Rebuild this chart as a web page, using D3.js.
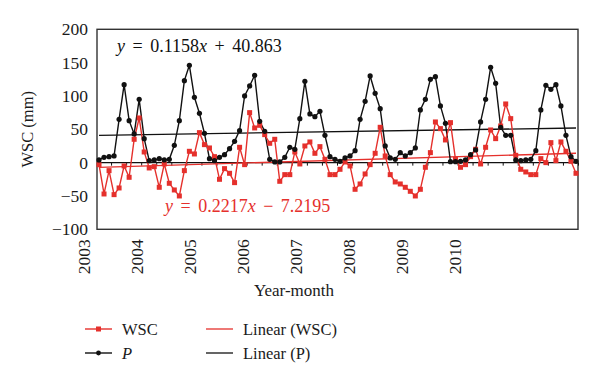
<!DOCTYPE html>
<html>
<head>
<meta charset="utf-8">
<script src="https://cdn.jsdelivr.net/npm/d3@7"></script>
<style>
  html, body { margin: 0; padding: 0; background: #fff; }
  svg { display: block; }
  text { font-family: "Liberation Serif", "Times New Roman", serif; fill: #1a1a1a; }
</style>
</head>
<body>
<svg id="chart" width="600" height="383"></svg>
<script>
// ---- Data (monthly, Jan 2003 – Dec 2010) ----
const yearLabels = ["2003", "2004", "2005", "2006", "2007", "2008", "2009", "2010"];
const yTicks = [-100, -50, 0, 50, 100, 150, 200];

const pValues = [
  4, 8, 9, 10, 65, 117, 63, 43, 95, 36, 3, 4,
  6, 4, 5, 26, 63, 123, 146, 98, 74, 44, 6, 3,
  8, 12, 21, 32, 48, 100, 115, 131, 62, 47, 5, 1,
  1, 8, 23, 20, 66, 122, 73, 69, 77, 41, 9, 5,
  2, 7, 10, 18, 65, 92, 130, 104, 81, 25, 7, 5,
  15, 10, 15, 22, 79, 95, 125, 129, 85, 59, 1.5, 1.5,
  2, 4, 12, 19, 61, 95, 143, 119, 53, 41, 41, 4,
  3, 4, 5, 18, 79, 116, 110, 117, 85, 41, 9, 2
];

const wscValues = [
  -3, -47, -12, -48, -38, -5, -22, 35, 67, 16, -8, -6,
  -37, -2, -31, -41, -50, -12, 17, 13, 45, 27, 22, 9,
  -25, -9, -16, -30, 23, -3, 75, 52, 56, 42, 29, 35,
  -28, -18, -18, 16, -2, 25, 31, 14, 24, 5, -18, -18,
  -10, 1, -5, -40, -32, -17, -3, 14, 53, 10, -18, -29,
  -32, -37, -43, -50, -40, -7, 15, 61, 51, 34, 60, 5,
  -7, -3, 9, 20, -2, 23, 49, 36, 55, 88, 66, 11,
  -10, -14, -18, -18, 6, 0, 30, 3, 31, 17, 2, -16
];

// Trend line coefficients as printed on the chart (x = 1..96)
const pTrend = { slope: 0.1158, intercept: 40.863 };
const wscTrend = { slope: 0.2217, intercept: -7.2195 };

// ---- Layout ----
const RED = "#e5302c";
const BLACK = "#111";
const plot = { left: 97, right: 578, top: 29.3, bottom: 229.3 };

const svg = d3.select("#chart");

const n = pValues.length;
const x = d3.scaleLinear().domain([-0.4, n - 0.6]).range([plot.left, plot.right]);
const y = d3.scaleLinear().domain([-100, 200]).range([plot.bottom, plot.top]);

// Plot frame
svg.append("rect")
  .attr("x", plot.left).attr("y", plot.top)
  .attr("width", plot.right - plot.left).attr("height", plot.bottom - plot.top)
  .attr("fill", "none").attr("stroke", "#333").attr("stroke-width", 1.4);

// Y axis labels
const yAxis = d3.axisLeft(y).tickValues(yTicks).tickSize(0).tickPadding(9).tickFormat(d3.format("d"));
const gy = svg.append("g").attr("transform", `translate(${plot.left},0)`).call(yAxis)
  .attr("font-family", "Liberation Serif, serif").attr("font-size", 17.5);
gy.select(".domain").remove();
gy.selectAll("text").attr("fill", "#1a1a1a");

// Zero line with small ticks (quarterly)
svg.append("line")
  .attr("x1", plot.left).attr("x2", plot.right)
  .attr("y1", y(0)).attr("y2", y(0))
  .attr("stroke", BLACK).attr("stroke-width", 1.2);
const zeroTicks = d3.range(2.5, n, 3);
svg.append("g").selectAll("line").data(zeroTicks).join("line")
  .attr("x1", d => x(d)).attr("x2", d => x(d))
  .attr("y1", y(0)).attr("y2", y(0) + 3)
  .attr("stroke", BLACK).attr("stroke-width", 1);

// Year labels (rotated), spread as in the original axis
const yearScale = d3.scalePoint().domain(yearLabels).range([x(-3.1), x(70.9)]);
const gx = svg.append("g").selectAll("g").data(yearLabels).join("g")
  .attr("transform", d => `translate(${yearScale(d)},${plot.bottom + 10}) rotate(-90)`);
gx.append("text").attr("text-anchor", "end").attr("dy", "0.35em")
  .style("font-size", "17.5px").text(d => d);

// Axis titles
svg.append("text")
  .attr("transform", `translate(27,${(plot.top + plot.bottom) / 2}) rotate(-90)`)
  .attr("text-anchor", "middle").attr("dy", "0.35em")
  .style("font-size", "16.5px").text("WSC (mm)");
svg.append("text")
  .attr("x", 294).attr("y", 296).attr("text-anchor", "middle")
  .style("font-size", "17px").text("Year-month");

// Trend lines
const trendLine = d3.line().x(d => x(d.i)).y(d => y(d.v));
function trendPts(t) { return [0, n - 1].map(i => ({ i, v: t.slope * (i + 1) + t.intercept })); }
svg.append("path").datum(trendPts(pTrend)).attr("d", trendLine)
  .attr("fill", "none").attr("stroke", BLACK).attr("stroke-width", 1.3);
svg.append("path").datum(trendPts(wscTrend)).attr("d", trendLine)
  .attr("fill", "none").attr("stroke", RED).attr("stroke-width", 1.3);

// Series lines
const line = d3.line().x((d, i) => x(i)).y(d => y(d));
svg.append("path").datum(pValues).attr("d", line)
  .attr("fill", "none").attr("stroke", BLACK).attr("stroke-width", 1.4);
svg.append("path").datum(wscValues).attr("d", line)
  .attr("fill", "none").attr("stroke", RED).attr("stroke-width", 1.4);

// Markers
svg.append("g").selectAll("rect").data(wscValues).join("rect")
  .attr("x", (d, i) => x(i) - 2.5).attr("y", d => y(d) - 2.5)
  .attr("width", 5).attr("height", 5).attr("fill", RED);
svg.append("g").selectAll("circle").data(pValues).join("circle")
  .attr("cx", (d, i) => x(i)).attr("cy", d => y(d)).attr("r", 2.6).attr("fill", BLACK);

// Equations
function equation(xPos, yPos, color, slope, rest) {
  const t = svg.append("text").attr("x", xPos).attr("y", yPos)
    .style("font-size", "18px").style("word-spacing", "3px").style("fill", color);
  t.append("tspan").style("font-style", "italic").text("y");
  t.append("tspan").text(" = " + slope);
  t.append("tspan").style("font-style", "italic").text("x");
  t.append("tspan").text(" " + rest);
}
equation(117, 52, "#111", "0.1158", "+ 40.863");
equation(165, 211.5, RED, "0.2217", "\u2212 7.2195");

// Legend
const legendItems = [
  { label: "WSC", color: RED, marker: "square", col: 0, row: 0 },
  { label: "P", color: BLACK, marker: "circle", col: 0, row: 1, italic: true },
  { label: "Linear (WSC)", color: RED, marker: null, col: 1, row: 0 },
  { label: "Linear (P)", color: BLACK, marker: null, col: 1, row: 1 }
];
const colX = [85, 206];
const rowY = [329, 353];
const lg = svg.append("g").selectAll("g").data(legendItems).join("g")
  .attr("transform", d => `translate(${colX[d.col]},${rowY[d.row]})`);
lg.append("line").attr("x1", 0).attr("x2", 27).attr("y1", 0).attr("y2", 0)
  .attr("stroke", d => d.color).attr("stroke-width", d => d.marker ? 1.4 : 1.3);
lg.filter(d => d.marker === "square").append("rect")
  .attr("x", 11).attr("y", -2.5).attr("width", 5).attr("height", 5).attr("fill", d => d.color);
lg.filter(d => d.marker === "circle").append("circle")
  .attr("cx", 13.5).attr("cy", 0).attr("r", 2.4).attr("fill", d => d.color);
lg.append("text").attr("x", 37).attr("y", 5.5)
  .style("font-size", "16.5px")
  .style("font-style", d => d.italic ? "italic" : "normal")
  .text(d => d.label);
</script>
</body>
</html>
